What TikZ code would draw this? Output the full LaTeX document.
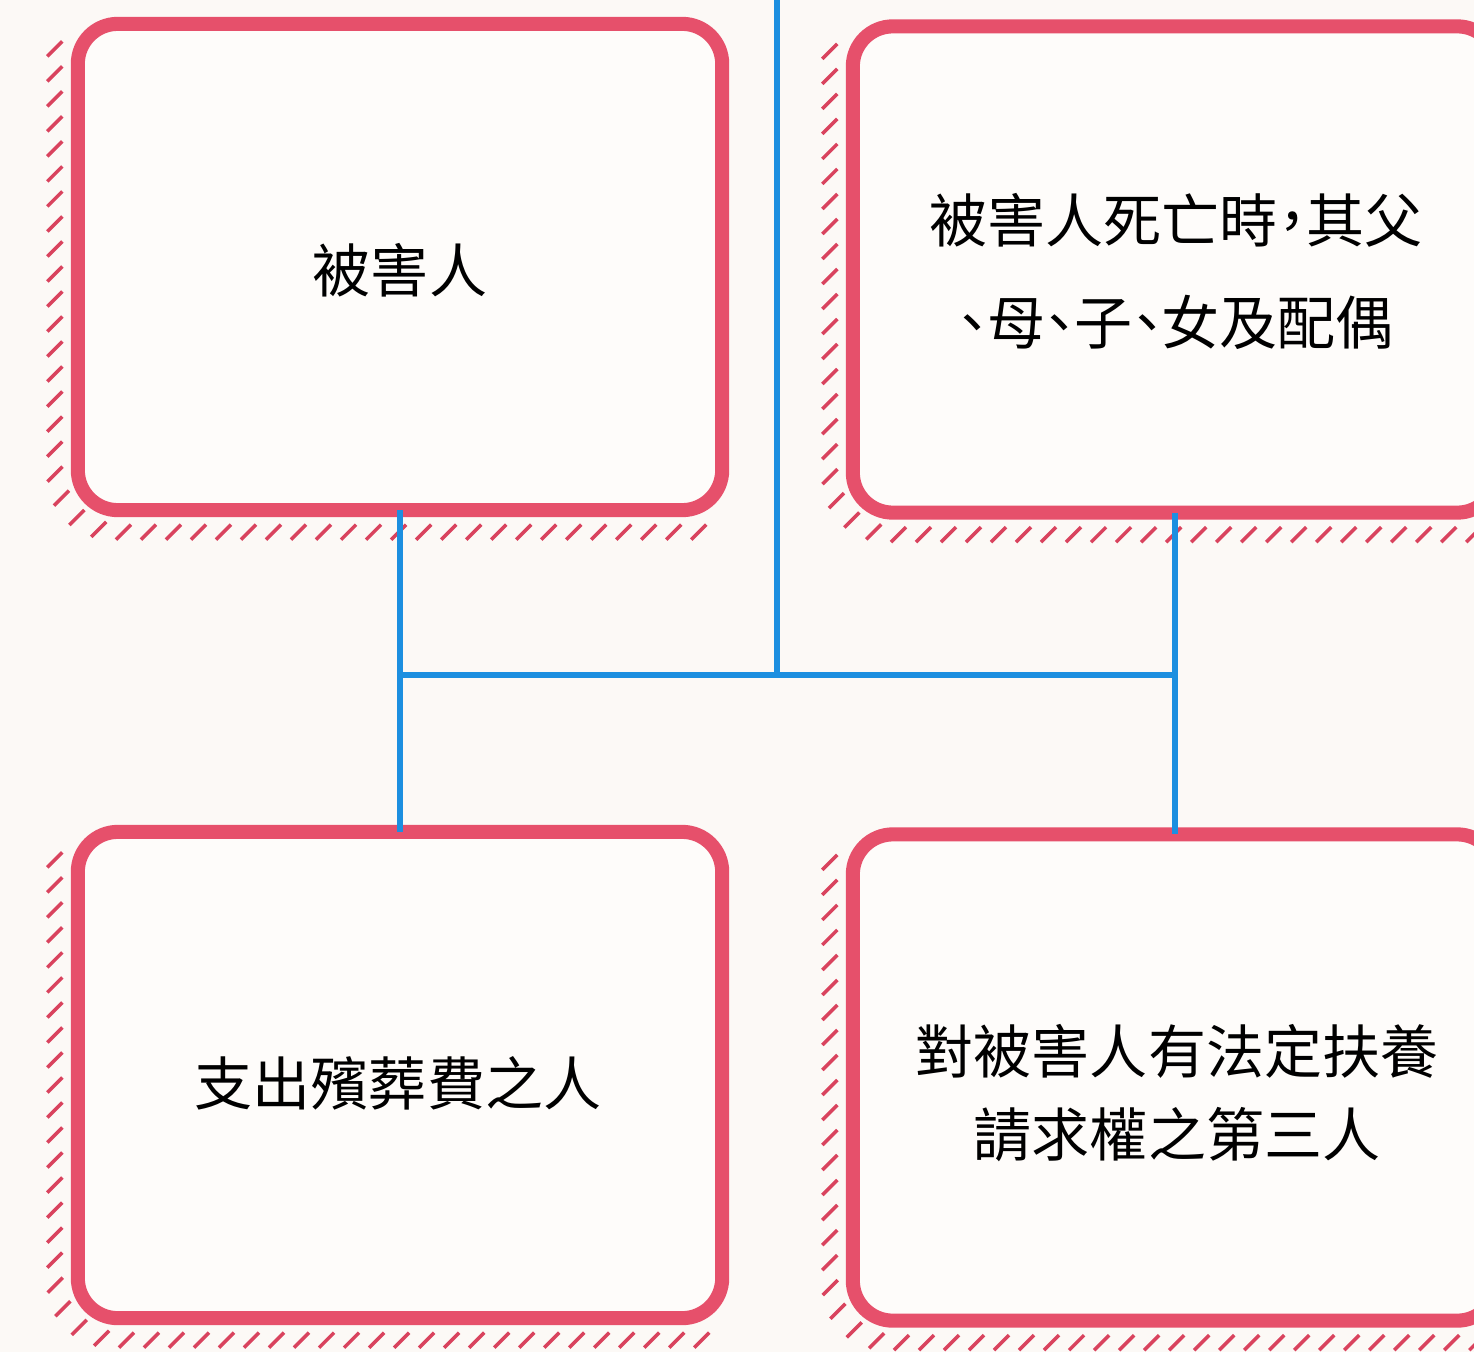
\documentclass[tikz,border=0pt]{standalone}
\usepackage{fontspec}
\newfontfamily\cjk{Noto Sans CJK TC}
\newfontfamily\cjkhalt[RawFeature=+halt]{Noto Sans CJK TC}
\usetikzlibrary{calc,decorations.markings}

\definecolor{paper}{HTML}{FCF9F6}
\definecolor{cardpink}{HTML}{E6506B}
\definecolor{hatchpink}{HTML}{D9435E}
\definecolor{linkblue}{HTML}{1C8FE0}

\tikzset{
    card/.style={draw=cardpink, line width=4pt, rounded corners=0.4cm, fill=paper!50!white,
        minimum width=6.44cm, minimum height=4.86cm, inner sep=0pt, outer sep=0pt},
    cardtext/.style={font=\cjk\fontsize{16.5}{23.5}\selectfont, align=center},
    link/.style={draw=linkblue, line width=1.45pt},
    hatch/.style={decorate, decoration={markings,
        mark=between positions 0 and 1 step 0.25cm with {\pgftransformresetnontranslations
            \draw[hatchpink, line width=1pt] (-0.075cm,-0.075cm) -- (0.075cm,0.075cm);}}}
}

\begin{document}
\begin{tikzpicture}[x=0.01cm, y=-0.01cm]
        \useasboundingbox (0,0) rectangle (1474,1352);
        \fill[paper] (0,0) rectangle (1474,1352);
        \clip (0,0) rectangle (1474,1352);

        % the four boxes
        \node[card] (victim) at (400,267) {};
        \node[card] (kin) at (1175,269.5) {};
        \node[card] (funeral) at (400,1075) {};
        \node[card] (dependant) at (1175,1077.5) {};

        \node[cardtext] (victim-t) at (400,270) {被害人};
        \node[cardtext, font=\cjkhalt\fontsize{16.5}{29}\selectfont] (kin-t) at (1176,271) {被害人死亡時，其父\\、母、子、女及配偶};
        \node[cardtext] (funeral-t) at (398,1083) {支出殯葬費之人};
        \node[cardtext] (dependant-t) at (1177,1093) {對被害人有法定扶養\\請求權之第三人};

        % hatched shadow, left and bottom
        \path[hatch, rounded corners=0.62cm] ($(victim.north west)+(-23,25)$) |- ($(victim.south east)+(-10,22)$);
        \path[hatch, rounded corners=0.62cm] ($(kin.north west)+(-23,25)$) |- ($(kin.south east)+(-10,22)$);
        \path[hatch, rounded corners=0.62cm] ($(funeral.north west)+(-23,28)$) |- ($(funeral.south east)+(-10,22)$);
        \path[hatch, rounded corners=0.62cm] ($(dependant.north west)+(-23,28)$) |- ($(dependant.south east)+(-10,22)$);

        % blue connectors
        \coordinate (feed) at (777,0);
        \coordinate (hub) at (777,675);
        \draw[link] (feed) -- (hub);
        \draw[link] (victim.south) -- (victim.south |- hub) -- (funeral.north);
        \draw[link] (kin.south) -- (kin.south |- hub) -- (dependant.north);
        \draw[link] (victim.south |- hub) -- (kin.south |- hub);

\end{tikzpicture}
\end{document}
